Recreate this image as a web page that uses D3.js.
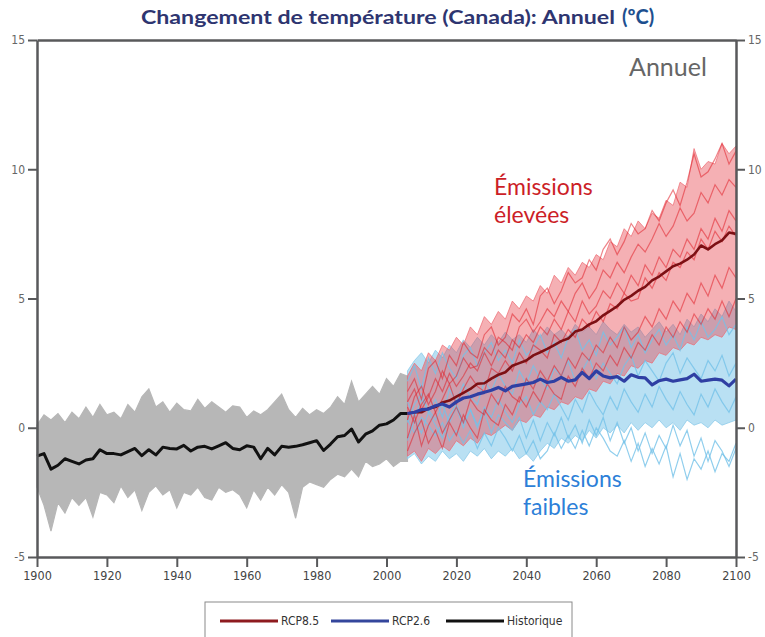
<!DOCTYPE html>
<html>
<head>
<meta charset="utf-8">
<script src="https://cdn.jsdelivr.net/npm/d3@7"></script>
<style>
  body { margin: 0; background: #fff; }
  svg { display: block; }
</style>
</head>
<body>
<script>
// ---- data (°C change) ----
const histYears = d3.range(1900, 2007, 2);   // 1900 .. 2006
const futYears = d3.range(2006, 2101, 2);    // 2006 .. 2100

const histMean = [-1.1, -1.0, -1.6, -1.45, -1.2, -1.3, -1.4, -1.25, -1.2, -0.85,
  -1.0, -1.0, -1.05, -0.92, -0.8, -1.08, -0.85, -1.05, -0.75, -0.8,
  -0.82, -0.68, -0.9, -0.75, -0.72, -0.82, -0.7, -0.58, -0.8, -0.85,
  -0.7, -0.75, -1.2, -0.8, -1.05, -0.72, -0.75, -0.72, -0.66, -0.58,
  -0.5, -0.88, -0.63, -0.35, -0.3, -0.05, -0.55, -0.25, -0.12, 0.1,
  0.15, 0.3, 0.55, 0.55];
const histUpper = [0.1, 0.5, 0.3, 0.55, 0.2, 0.6, 0.35, 0.8, 0.4, 0.9,
  0.5, 0.6, 0.35, 0.9, 0.6, 1.2, 1.5, 0.8, 1.0, 0.6,
  0.95, 0.7, 0.65, 1.1, 0.75, 1.0, 0.8, 0.6, 0.85, 0.8,
  0.4, 0.65, 0.5, 0.7, 1.0, 1.3, 0.7, 0.4, 0.75, 0.5,
  0.7, 0.55, 0.8, 1.2, 0.9, 1.8, 1.0, 1.3, 1.6, 1.3,
  1.9, 1.6, 2.1, 2.0];
const histLower = [-2.3, -3.0, -4.0, -2.9, -3.3, -2.7, -3.0, -2.7, -3.45, -2.5,
  -2.6, -2.9, -2.25, -2.7, -2.4, -3.2, -2.5, -2.25, -2.6, -2.4,
  -3.1, -2.5, -2.6, -2.3, -2.7, -2.8, -2.3, -2.5, -2.4, -2.6,
  -3.1, -2.4, -2.8, -2.3, -2.6, -2.2, -2.5, -3.5, -2.3, -2.1,
  -2.2, -2.3, -2.0, -1.8, -1.9, -1.6, -1.9, -1.3, -1.5, -1.4,
  -1.2, -1.5, -1.3, -1.3];

const rcp85Mean = [0.55, 0.6, 0.6, 0.75, 0.8, 0.98, 1.05, 1.2, 1.35, 1.5,
  1.7, 1.72, 1.9, 2.05, 2.15, 2.4, 2.5, 2.6, 2.8, 2.92,
  3.05, 3.2, 3.35, 3.45, 3.72, 3.8, 4.0, 4.12, 4.35, 4.52,
  4.7, 4.95, 5.1, 5.3, 5.45, 5.7, 5.85, 6.05, 6.25, 6.35,
  6.5, 6.7, 7.05, 6.9, 7.1, 7.25, 7.55, 7.5];
const rcp85Upper = [2.0, 2.5, 2.2, 2.9, 2.6, 3.2, 3.0, 3.5, 3.2, 3.9,
  3.6, 4.3, 4.0, 4.5, 4.2, 4.9, 4.6, 5.1, 4.9, 5.5,
  5.2, 5.9, 5.6, 6.2, 5.9, 6.4, 6.2, 6.7, 6.5, 7.2,
  7.0, 7.7, 7.4, 8.0, 7.7, 8.3, 8.1, 8.8, 8.6, 9.5,
  9.3, 10.8, 10.0, 10.3, 10.2, 11.0, 10.6, 10.9];
const rcp85Lower = [-1.1, -0.9, -1.3, -0.8, -1.0, -0.7, -0.9, -0.5, -0.7, -0.4,
  -0.6, -0.2, -0.3, -0.1, 0.1, -0.1, 0.3, 0.2, 0.5, 0.4,
  0.8, 0.7, 1.0, 0.9, 1.2, 1.1, 1.5, 1.4, 1.8, 1.7,
  2.1, 2.0, 2.4, 2.3, 2.6, 2.5, 2.9, 2.8, 3.1, 3.0,
  3.3, 3.2, 3.5, 3.4, 3.6, 3.5, 3.9, 3.8];
const rcp85Members = [
  [1.4, 1.9, 1.1, 2.3, 2.6, 1.9, 2.8, 2.4, 3.3, 2.9, 2.7, 3.6, 3.9, 3.2, 3.5, 4.4,
   4.1, 4.6, 4.0, 5.1, 5.4, 4.8, 5.3, 6.0, 5.6, 5.8, 6.5, 6.1, 6.9, 7.3, 6.7, 7.2,
   7.9, 7.5, 7.7, 8.4, 8.0, 8.7, 9.2, 8.6, 9.5, 10.6, 9.7, 9.9, 10.4, 11.0, 10.2, 10.7],
  [0.3, 1.2, 1.6, 0.9, 1.4, 2.2, 1.7, 2.0, 2.7, 2.3, 2.4, 3.1, 2.8, 3.5, 3.3, 3.0,
   3.9, 4.2, 3.7, 4.1, 4.6, 4.3, 4.9, 4.5, 5.2, 5.6, 5.0, 5.4, 6.1, 5.8, 6.4, 6.0,
   6.6, 7.1, 6.8, 7.3, 7.9, 7.4, 7.8, 8.5, 8.0, 8.3, 9.1, 8.7, 9.4, 9.0, 9.6, 9.3],
  [0.8, 0.2, 0.9, 1.3, 0.6, 1.1, 1.7, 0.9, 1.5, 2.0, 1.6, 1.4, 2.3, 2.1, 2.6, 2.2,
   2.9, 2.5, 3.2, 3.0, 2.7, 3.6, 3.3, 3.8, 3.5, 4.2, 3.9, 4.5, 4.1, 4.8, 4.6, 5.2,
   4.9, 5.0, 5.8, 5.4, 6.0, 5.7, 6.4, 6.2, 6.8, 6.5, 7.3, 6.9, 7.6, 7.2, 7.8, 7.4],
  [-0.4, 0.5, -0.7, 0.1, 0.6, -0.2, 0.3, 0.8, 0.2, 1.1, 0.7, 0.5, 1.3, 0.9, 1.6, 1.2,
   1.0, 1.9, 1.5, 2.2, 1.8, 2.4, 2.0, 2.7, 2.3, 2.9, 2.6, 3.2, 2.9, 3.5, 3.1, 3.9,
   3.4, 3.7, 4.3, 3.9, 4.6, 4.2, 4.9, 4.5, 5.2, 4.8, 5.6, 5.1, 5.9, 5.4, 6.2, 5.8],
  [-0.9, -0.2, 0.3, -0.6, -0.1, -0.8, 0.2, -0.3, 0.5, 0.0, -0.4, 0.7, 0.3, 0.1, 0.9, 0.5,
   1.2, 0.8, 1.4, 1.0, 1.7, 1.3, 1.1, 2.0, 1.6, 2.3, 1.9, 2.5, 2.2, 2.8, 2.4, 3.1,
   2.7, 3.3, 3.0, 3.6, 3.2, 3.9, 3.5, 4.1, 3.7, 4.4, 4.0, 4.6, 4.2, 4.9, 4.3, 5.0],
  [1.0, 1.5, 0.7, 1.2, 1.9, 1.4, 2.1, 1.6, 2.0, 2.5, 2.2, 2.9, 2.4, 3.0, 2.7, 3.4,
   3.1, 3.6, 3.3, 3.9, 3.6, 4.2, 3.8, 4.5, 4.1, 4.9, 4.4, 4.7, 5.3, 5.0, 5.6, 5.2,
   5.9, 5.5, 6.3, 5.9, 6.6, 6.2, 6.9, 6.6, 7.3, 6.9, 7.7, 7.3, 8.1, 7.6, 8.4, 8.0]
];

const rcp26Mean = [0.55, 0.6, 0.7, 0.72, 0.85, 0.92, 0.8, 1.0, 1.15, 1.2,
  1.3, 1.37, 1.45, 1.56, 1.43, 1.6, 1.65, 1.7, 1.75, 1.88,
  1.75, 1.8, 1.95, 1.8, 1.85, 2.14, 1.9, 2.2, 2.0, 1.93,
  1.98, 1.8, 2.05, 1.95, 1.93, 1.66, 1.82, 1.88, 1.8, 1.85,
  1.9, 2.07, 1.8, 1.84, 1.88, 1.84, 1.62, 1.88];
const rcp26Upper = [2.2, 2.6, 2.9, 2.5, 3.0, 2.7, 3.2, 2.9, 3.4, 3.1,
  3.5, 3.2, 3.6, 3.3, 3.7, 3.4, 3.6, 3.3, 3.8, 3.5,
  3.9, 3.6, 3.8, 3.5, 4.0, 3.7, 3.9, 3.6, 4.1, 3.8,
  3.6, 4.0, 3.7, 3.9, 3.5, 3.8, 4.1, 3.7, 4.0, 3.6,
  4.2, 3.9, 4.4, 4.1, 4.6, 4.3, 4.9, 4.5];
const rcp26Lower = [-1.2, -1.0, -1.4, -1.1, -1.3, -0.9, -1.2, -1.0, -1.3, -0.9,
  -1.1, -0.8, -1.2, -0.9, -1.1, -0.8, -1.2, -1.0, -1.3, -0.9,
  -0.6, -0.8, -0.4, -0.6, -0.3, -0.5, -0.1, -0.4, 0.0, -0.2,
  0.1, -0.2, 0.2, -0.1, 0.2, 0.0, 0.3, 0.0, 0.2, -0.1,
  0.3, 0.1, 0.2, 0.0, 0.3, 0.1, 0.2, 0.3];
const rcp26Members = [
  [0.3, -0.2, 0.4, 0.1, -0.3, 0.2, -0.5, -0.1, -0.6, -0.1, -0.8, -0.2, -0.7, 0.0, -0.4, -0.9,
   -0.3, -1.0, -0.5, -1.2, -0.9, -0.2, -0.8, -0.3, -0.8, -0.1, -0.7, 0.0, -0.4, -0.9, -1.1, -0.5,
   -1.3, -0.6, -1.5, -0.8, -1.4, -0.7, -1.9, -1.0, -2.0, -1.2, -1.6, -0.9, -1.7, -1.0, -1.3, -0.6],
  [1.0, 0.4, 1.1, 0.7, 0.3, 0.9, 0.2, 0.8, 0.0, 0.7, 0.1, 0.6, -0.2, 0.5, 0.2, -0.1,
   0.4, -0.4, 0.3, -0.5, 0.2, -0.3, 0.4, -0.4, 0.1, -0.6, 0.3, -0.3, 0.4, -0.5, 0.2, -0.6,
   0.0, -0.9, -0.2, -1.0, -0.3, -0.8, 0.1, -0.7, -0.1, -1.1, -0.4, -1.3, -0.5, -0.9, -1.5, -0.8],
  [1.8, 2.4, 1.5, 2.7, 2.1, 2.9, 2.3, 1.9, 2.8, 3.1, 2.4, 2.9, 3.3, 2.6, 3.0, 2.5,
   3.4, 2.8, 3.1, 3.6, 2.9, 3.3, 2.7, 3.5, 3.8, 3.0, 3.4, 2.8, 3.7, 3.2, 3.5, 3.9,
   3.1, 3.6, 2.9, 3.4, 3.8, 3.2, 3.6, 3.0, 3.9, 3.4, 4.1, 3.5, 3.8, 4.3, 3.6, 4.0],
  [0.2, 0.9, 1.3, 0.6, 1.1, 0.4, 1.5, 1.0, 1.7, 1.2, 0.9, 1.8, 1.4, 2.1, 1.6, 1.3,
   2.2, 1.7, 2.4, 1.9, 1.5, 2.3, 2.0, 2.6, 1.8, 2.2, 2.7, 1.9, 2.5, 2.1, 1.7, 2.4,
   2.8, 2.0, 2.6, 2.2, 1.8, 2.5, 2.9, 2.1, 2.7, 2.3, 1.9, 2.6, 2.2, 2.8, 2.0, 2.5],
  [-0.5, 0.3, -0.2, 0.6, 0.1, -0.4, 0.5, 0.9, 0.2, 0.7, 0.0, 0.8, 0.4, 1.1, 0.6, 0.2,
   0.9, 1.2, 0.5, 1.0, 0.7, 1.3, 0.8, 0.3, 1.1, 0.6, 1.4, 0.9, 0.5, 1.2, 0.7, 1.5,
   1.0, 0.6, 1.3, 0.8, 1.6, 1.1, 0.7, 1.4, 0.9, 0.5, 1.3, 0.8, 1.5, 1.0, 0.6, 1.2]
];

const yTicks = [-5, 0, 5, 10, 15];
const xTicks = [1900, 1920, 1940, 1960, 1980, 2000, 2020, 2040, 2060, 2080, 2100];
const legendItems = [
  { label: "RCP8.5", color: "#8e1b1f" },
  { label: "RCP2.6", color: "#34469c" },
  { label: "Historique", color: "#111" }
];

// ---- chart ----
const width = 765, height = 637;
const narrow = "'DejaVu Sans Condensed', 'DejaVu Sans', sans-serif";
const round = "Lato, 'Open Sans', sans-serif";

const svg = d3.select("body").append("svg")
  .attr("width", width)
  .attr("height", height);

const x = d3.scaleLinear().domain([1900, 2100]).range([37, 736]);
const y = d3.scaleLinear().domain([-5, 15]).range([557, 40]);

function band(years) {
  return d3.area()
    .x((d, i) => x(years[i]))
    .y0(d => y(d[0]))
    .y1(d => y(d[1]));
}
function line(years) {
  return d3.line().x((d, i) => x(years[i])).y(d => y(d));
}
const zip = (lo, hi) => lo.map((v, i) => [v, hi[i]]);

// historical ensemble
svg.append("path")
  .attr("d", band(histYears)(zip(histLower, histUpper)))
  .attr("fill", "#b7b7b7")
  .attr("stroke", "#b7b7b7")
  .attr("stroke-width", 1.2);

// RCP2.6 ensemble
svg.append("path")
  .attr("d", band(futYears)(zip(rcp26Lower, rcp26Upper)))
  .attr("fill", "#93cfec")
  .attr("fill-opacity", 0.65)
  .attr("stroke", "#8ccbea")
  .attr("stroke-opacity", 0.8);

// RCP8.5 ensemble
svg.append("path")
  .attr("d", band(futYears)(zip(rcp85Lower, rcp85Upper)))
  .attr("fill", "#e8434c")
  .attr("fill-opacity", 0.42)
  .attr("stroke", "#ee6870")
  .attr("stroke-opacity", 0.7);

svg.selectAll("path.m26")
  .data(rcp26Members)
  .enter().append("path")
  .attr("class", "m26")
  .attr("d", line(futYears))
  .attr("fill", "none")
  .attr("stroke", "#74c2e8")
  .attr("stroke-opacity", 0.8)
  .attr("stroke-width", 1.2);

svg.selectAll("path.m85")
  .data(rcp85Members)
  .enter().append("path")
  .attr("class", "m85")
  .attr("d", line(futYears))
  .attr("fill", "none")
  .attr("stroke", "#e0202a")
  .attr("stroke-opacity", 0.55)
  .attr("stroke-width", 1.2);

// ensemble means
svg.append("path")
  .attr("d", line(histYears)(histMean))
  .attr("fill", "none")
  .attr("stroke", "#111")
  .attr("stroke-width", 3)
  .attr("stroke-linejoin", "round");
svg.append("path")
  .attr("d", line(futYears)(rcp85Mean))
  .attr("fill", "none")
  .attr("stroke", "#7d1014")
  .attr("stroke-width", 2.6)
  .attr("stroke-linejoin", "round");
svg.append("path")
  .attr("d", line(futYears)(rcp26Mean))
  .attr("fill", "none")
  .attr("stroke", "#2f3fa3")
  .attr("stroke-width", 3.2)
  .attr("stroke-linejoin", "round");

// axes
function styleAxis(g, fs) {
  g.select(".domain").attr("stroke", "#58595b").attr("stroke-width", 2.5);
  g.selectAll(".tick line").attr("stroke", "#58595b").attr("stroke-width", 2);
  g.selectAll(".tick text")
    .attr("fill", "#666")
    .style("font-family", narrow)
    .style("font-stretch", "condensed")
    .style("font-size", fs + "px");
}

svg.append("g")
  .attr("transform", "translate(37,0)")
  .call(d3.axisLeft(y).tickValues(yTicks).tickFormat(String).tickSize(9).tickSizeOuter(0).tickPadding(3))
  .call(g => styleAxis(g, 12));

svg.append("g")
  .attr("transform", "translate(736,0)")
  .call(d3.axisRight(y).tickValues(yTicks).tickFormat(String).tickSize(9).tickSizeOuter(0).tickPadding(3))
  .call(g => styleAxis(g, 12));

svg.append("g")
  .attr("transform", "translate(0,40)")
  .call(d3.axisTop(x).tickValues([]).tickSizeOuter(0))
  .call(g => styleAxis(g, 12));

svg.append("g")
  .attr("transform", "translate(0,557)")
  .call(d3.axisBottom(x).tickValues(xTicks).tickFormat(String).tickSize(10).tickSizeOuter(0).tickPadding(4))
  .call(g => styleAxis(g, 12.5))
  .call(g => g.selectAll(".tick text").attr("fill", "#444"));

// title
svg.append("text")
  .attr("x", 141)
  .attr("y", 24)
  .attr("textLength", 474)
  .attr("lengthAdjust", "spacingAndGlyphs")
  .attr("fill", "#2e3570")
  .attr("font-weight", "bold")
  .style("font-family", round)
  .style("font-size", "18px")
  .text("Changement de température (Canada): Annuel");
svg.append("text")
  .attr("x", 622)
  .attr("y", 24)
  .attr("fill", "#1d4f8f")
  .attr("font-weight", "bold")
  .style("font-family", round)
  .style("font-size", "20px")
  .text("(ºC)");

// annotations
svg.append("text")
  .attr("x", 629).attr("y", 76)
  .attr("fill", "#666")
  .style("font-family", round)
  .style("font-size", "25px")
  .text("Annuel");

const notes = [
  { lines: ["Émissions", "élevées"], x: 494, y: 195, color: "#cc1e27" },
  { lines: ["Émissions", "faibles"], x: 523, y: 487, color: "#2d7fd8" }
];
notes.forEach(n => {
  svg.append("text")
    .attr("fill", n.color)
    .style("font-family", round)
    .style("font-size", "23px")
    .selectAll("tspan")
    .data(n.lines)
    .enter().append("tspan")
    .attr("x", n.x)
    .attr("y", (d, i) => n.y + i * 28)
    .text(d => d);
});

// legend
const legend = svg.append("g").attr("transform", "translate(205,602)");
legend.append("rect")
  .attr("width", 367).attr("height", 45)
  .attr("fill", "#fff")
  .attr("stroke", "#8a8a8a");
const legendX = [15, 126, 241];
const item = legend.selectAll("g.item")
  .data(legendItems)
  .enter().append("g")
  .attr("class", "item")
  .attr("transform", (d, i) => `translate(${legendX[i]},19)`);
item.append("line")
  .attr("x1", 0).attr("x2", 58)
  .attr("stroke", d => d.color)
  .attr("stroke-width", 3);
item.append("text")
  .attr("x", 61).attr("dy", "0.35em")
  .attr("fill", "#333")
  .style("font-family", narrow)
  .style("font-stretch", "condensed")
  .style("font-size", "12px")
  .text(d => d.label);
</script>
</body>
</html>
